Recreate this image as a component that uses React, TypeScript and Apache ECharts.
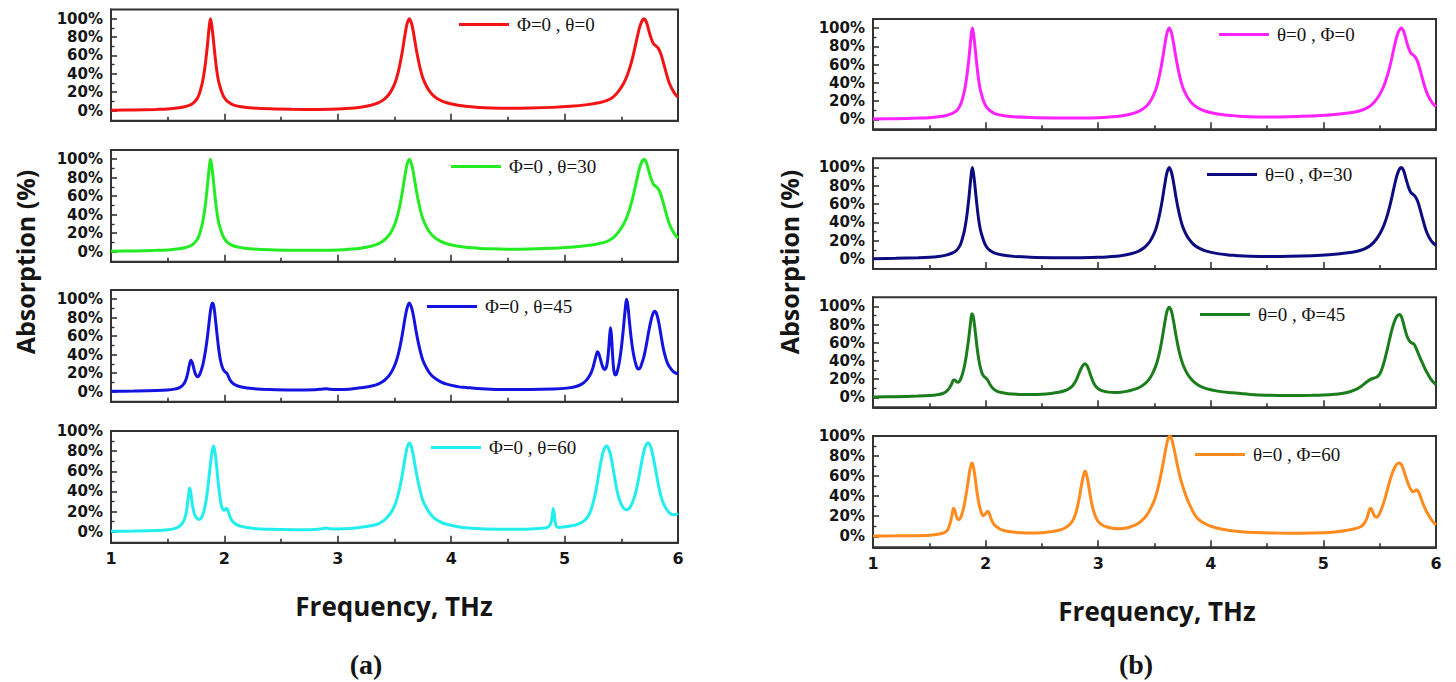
import React, { useEffect, useRef } from "react";
import * as echarts from "echarts";

// Axis ticks and labels
const freqMin = 1;
const freqMax = 6;
const absorptionTicks = [0, 20, 40, 60, 80, 100];
const absorptionMinorTicks = [10, 30, 50, 70, 90];

type Pt = [number, number];

// (a) Φ = 0, varying θ — frequency (THz), absorption (%)
const phi0Theta0: Pt[] = [
  [1.0, 0.3], [1.2, 0.7], [1.4, 1.3], [1.5, 1.8], [1.58, 2.7], [1.65, 4.2], [1.7, 6.2], [1.727, 8.3],
  [1.757, 12.5], [1.777, 17.5], [1.797, 26], [1.807, 31], [1.817, 38], [1.827, 46], [1.837, 56], [1.847, 67],
  [1.857, 80], [1.867, 92], [1.877, 100], [1.887, 94], [1.897, 84], [1.907, 72], [1.917, 60], [1.927, 49],
  [1.937, 40], [1.947, 33], [1.957, 28], [1.977, 20], [1.997, 14.5], [2.027, 10], [2.077, 6.3], [2.15, 4.2],
  [2.25, 2.8], [2.4, 1.9], [2.6, 1.4], [2.8, 1.3], [3.0, 1.8], [3.1, 2.5], [3.2, 3.6], [3.3, 6],
  [3.36, 8.6], [3.41, 12.5], [3.45, 17.5], [3.48, 23.5], [3.51, 32], [3.53, 40.5], [3.55, 51.5], [3.57, 65],
  [3.59, 80.5], [3.61, 94], [3.63, 100], [3.65, 95], [3.67, 83], [3.69, 68], [3.71, 55], [3.73, 44],
  [3.75, 35.5], [3.78, 27], [3.81, 21], [3.85, 15.5], [3.9, 11.5], [3.96, 8.5], [4.06, 5.8], [4.15, 4.4],
  [4.2, 4.0], [4.25, 3.4], [4.35, 2.9], [4.5, 2.6], [4.7, 2.8], [4.9, 3.5], [5.05, 4.6], [5.2, 6.5],
  [5.3, 8.5], [5.37, 10.8], [5.43, 15], [5.478, 21.5], [5.52, 29.5], [5.55, 37.6], [5.58, 48.7], [5.6, 57.9],
  [5.62, 68.5], [5.64, 79.7], [5.66, 90], [5.675, 95.5], [5.69, 99], [5.698, 100], [5.71, 99], [5.725, 95],
  [5.745, 86], [5.765, 78], [5.785, 72.5], [5.805, 70.5], [5.825, 68], [5.845, 63], [5.865, 55], [5.885, 46],
  [5.905, 37], [5.925, 29.5], [5.95, 23], [5.975, 18], [6.0, 14.5],
];

const phi0Theta30: Pt[] = [
  [1.0, 0.3], [1.2, 0.7], [1.4, 1.3], [1.5, 1.8], [1.58, 2.7], [1.65, 4.2], [1.7, 6.2], [1.727, 8.3],
  [1.757, 12.5], [1.777, 17.5], [1.797, 26], [1.807, 31], [1.817, 38], [1.827, 46], [1.837, 56], [1.847, 67],
  [1.857, 80], [1.867, 92], [1.877, 100], [1.887, 94], [1.897, 84], [1.907, 72], [1.917, 60], [1.927, 49],
  [1.937, 40], [1.947, 33], [1.957, 28], [1.977, 20], [1.997, 14.5], [2.027, 10], [2.077, 6.3], [2.15, 4.2],
  [2.25, 2.8], [2.4, 1.9], [2.6, 1.4], [2.8, 1.3], [3.0, 1.8], [3.1, 2.5], [3.2, 3.6], [3.3, 6],
  [3.36, 8.6], [3.41, 12.5], [3.45, 17.5], [3.48, 23.5], [3.51, 32], [3.53, 40.5], [3.55, 51.5], [3.57, 65],
  [3.59, 80.5], [3.61, 94], [3.63, 100], [3.65, 95], [3.67, 83], [3.69, 68], [3.71, 55], [3.73, 44],
  [3.75, 35.5], [3.78, 27], [3.81, 21], [3.85, 15.5], [3.9, 11.5], [3.96, 8.5], [4.06, 5.8], [4.15, 4.4],
  [4.2, 4.0], [4.25, 3.4], [4.35, 2.9], [4.5, 2.6], [4.7, 2.8], [4.9, 3.5], [5.05, 4.6], [5.2, 6.5],
  [5.3, 8.5], [5.37, 10.8], [5.43, 15], [5.478, 21.5], [5.52, 29.5], [5.55, 37.6], [5.58, 48.7], [5.6, 57.9],
  [5.62, 68.5], [5.64, 79.7], [5.66, 90], [5.675, 95.5], [5.69, 99], [5.698, 100], [5.71, 99], [5.725, 95],
  [5.745, 86], [5.765, 78], [5.785, 72.5], [5.805, 70.5], [5.825, 68], [5.845, 63], [5.865, 55], [5.885, 46],
  [5.905, 37], [5.925, 29.5], [5.95, 23], [5.975, 18], [6.0, 14.5],
];

const phi0Theta45: Pt[] = [
  [1.0, 0.2], [1.2, 0.5], [1.4, 1], [1.5, 1.6], [1.56, 2.6], [1.6, 4], [1.63, 6.5], [1.655, 11],
  [1.675, 19], [1.69, 28], [1.705, 34], [1.718, 31], [1.732, 24], [1.748, 18], [1.763, 16], [1.778, 17.5],
  [1.793, 22], [1.808, 28], [1.823, 37], [1.838, 48], [1.853, 62], [1.866, 76], [1.878, 88], [1.888, 94.5],
  [1.895, 96], [1.903, 94.5], [1.913, 87], [1.923, 76], [1.935, 62], [1.948, 48], [1.962, 36], [1.977, 28],
  [1.992, 23.5], [2.005, 21.5], [2.02, 20], [2.035, 16.5], [2.05, 12.5], [2.07, 9.5], [2.1, 7], [2.15, 5],
  [2.25, 3.2], [2.4, 2.2], [2.6, 1.7], [2.8, 1.9], [2.87, 2.8], [2.9, 3.0], [2.93, 2.5], [3.0, 2.2],
  [3.1, 2.6], [3.2, 4.1], [3.3, 6], [3.36, 8.4], [3.41, 12], [3.45, 17], [3.48, 22.7], [3.51, 31],
  [3.53, 39], [3.55, 49.5], [3.57, 62.5], [3.59, 77.5], [3.61, 90], [3.63, 96], [3.65, 91], [3.67, 80],
  [3.69, 65.5], [3.71, 53], [3.73, 42.5], [3.75, 34], [3.78, 26], [3.81, 20], [3.85, 15], [3.9, 11],
  [3.96, 8], [4.06, 5.3], [4.1, 4.6], [4.13, 4.5], [4.2, 3.5], [4.35, 2.6], [4.5, 2.2], [4.7, 2.2],
  [4.9, 2.7], [5.02, 3.7], [5.1, 5.5], [5.15, 8], [5.19, 12], [5.22, 17], [5.245, 24], [5.265, 33],
  [5.28, 40], [5.29, 43], [5.302, 41], [5.318, 34], [5.335, 27], [5.35, 24], [5.362, 24.5], [5.375, 30],
  [5.388, 45], [5.397, 60], [5.405, 69], [5.413, 61], [5.422, 42], [5.432, 25], [5.442, 18.5], [5.452, 18],
  [5.465, 22], [5.48, 30], [5.495, 42], [5.51, 58], [5.522, 73], [5.535, 90], [5.546, 100], [5.557, 94],
  [5.57, 78], [5.585, 60], [5.6, 46], [5.615, 36], [5.632, 28], [5.648, 24.5], [5.665, 25.5], [5.68, 30],
  [5.7, 38], [5.72, 50], [5.74, 64], [5.76, 76], [5.778, 84], [5.795, 87], [5.812, 84], [5.83, 75],
  [5.85, 61], [5.87, 47], [5.89, 37], [5.91, 30], [5.935, 25], [5.96, 21.5], [6.0, 19],
];

const phi0Theta60: Pt[] = [
  [1.0, 0.3], [1.2, 0.6], [1.4, 1.1], [1.5, 1.8], [1.56, 3], [1.6, 5], [1.63, 8.5], [1.65, 13],
  [1.665, 20], [1.677, 30], [1.687, 39], [1.693, 43], [1.7, 41], [1.71, 33], [1.722, 24], [1.737, 17],
  [1.755, 13.5], [1.775, 12], [1.795, 13.5], [1.81, 17], [1.825, 23], [1.84, 32], [1.855, 45], [1.868, 58],
  [1.88, 70], [1.892, 80], [1.904, 85], [1.916, 80], [1.928, 69], [1.94, 55], [1.952, 42], [1.965, 31],
  [1.978, 24], [1.99, 21.5], [2.002, 21.5], [2.015, 23], [2.025, 22.5], [2.037, 19], [2.05, 14.5], [2.07, 10.5],
  [2.1, 7.5], [2.15, 5.2], [2.25, 3.3], [2.4, 2.3], [2.6, 1.9], [2.8, 2.2], [2.87, 3.1], [2.9, 3.5],
  [2.93, 2.9], [3.0, 2.6], [3.1, 3], [3.2, 4.3], [3.3, 6], [3.36, 8], [3.41, 11.5], [3.45, 16],
  [3.48, 21], [3.51, 28.5], [3.53, 36], [3.55, 45.5], [3.57, 57.5], [3.59, 71], [3.61, 83], [3.63, 88],
  [3.65, 84], [3.67, 73], [3.69, 60], [3.71, 48.5], [3.73, 39], [3.75, 31], [3.78, 24], [3.81, 18.5],
  [3.85, 13.5], [3.9, 10], [3.96, 7.3], [4.06, 4.8], [4.15, 3.6], [4.3, 2.7], [4.5, 2.3], [4.7, 2.6],
  [4.82, 3.5], [4.86, 5], [4.88, 9], [4.893, 17], [4.9, 23], [4.908, 18], [4.918, 9], [4.93, 5],
  [4.95, 4.2], [5.0, 4.8], [5.05, 5.6], [5.1, 6.7], [5.15, 9], [5.19, 12.8], [5.22, 18], [5.25, 28],
  [5.28, 43], [5.305, 60], [5.325, 72], [5.345, 81], [5.37, 85], [5.393, 81], [5.413, 72], [5.433, 59],
  [5.455, 45], [5.477, 34], [5.5, 27], [5.523, 23], [5.546, 21.7], [5.57, 23], [5.595, 28], [5.62, 36],
  [5.645, 48], [5.668, 62], [5.69, 75], [5.713, 85], [5.737, 88], [5.76, 84], [5.783, 73], [5.805, 60],
  [5.828, 46], [5.85, 35], [5.875, 27], [5.9, 22], [5.93, 18], [5.957, 16.7], [5.98, 17], [6.0, 18],
];

// (b) θ = 0, varying Φ
const theta0Phi0: Pt[] = [
  [1.0, 0.3], [1.2, 0.7], [1.4, 1.3], [1.5, 1.8], [1.58, 2.7], [1.65, 4.2], [1.7, 6.2], [1.732, 8.3],
  [1.762, 12.5], [1.782, 17.5], [1.802, 26], [1.812, 31], [1.822, 38], [1.832, 46], [1.842, 56], [1.852, 67],
  [1.862, 80], [1.872, 92], [1.882, 100], [1.892, 94], [1.902, 84], [1.912, 72], [1.922, 60], [1.932, 49],
  [1.942, 40], [1.952, 33], [1.962, 28], [1.982, 20], [2.002, 14.5], [2.032, 10], [2.082, 6.3], [2.15, 4.2],
  [2.25, 2.8], [2.4, 1.9], [2.6, 1.4], [2.8, 1.3], [3.0, 1.8], [3.1, 2.5], [3.2, 3.6], [3.3, 6],
  [3.36, 8.6], [3.41, 12.5], [3.45, 17.5], [3.48, 23.5], [3.51, 32], [3.53, 40.5], [3.55, 51.5], [3.57, 65],
  [3.59, 80.5], [3.61, 94], [3.63, 100], [3.65, 95], [3.67, 83], [3.69, 68], [3.71, 55], [3.73, 44],
  [3.75, 35.5], [3.78, 27], [3.81, 21], [3.85, 15.5], [3.9, 11.5], [3.96, 8.5], [4.06, 5.8], [4.15, 4.4],
  [4.2, 4.0], [4.25, 3.4], [4.35, 2.9], [4.5, 2.6], [4.7, 2.8], [4.9, 3.5], [5.05, 4.6], [5.2, 6.5],
  [5.3, 8.5], [5.36, 10.8], [5.42, 15], [5.47, 21.5], [5.51, 29.5], [5.54, 37.6], [5.57, 48.7], [5.59, 57.9],
  [5.61, 68.5], [5.63, 79.7], [5.65, 90], [5.665, 95.5], [5.68, 99], [5.69, 100], [5.702, 99], [5.717, 95],
  [5.737, 86], [5.757, 78], [5.777, 72.5], [5.797, 70.5], [5.817, 68], [5.837, 63], [5.857, 55], [5.877, 46],
  [5.897, 37], [5.917, 29.5], [5.942, 23], [5.97, 17.5], [6.0, 14],
];

const theta0Phi30: Pt[] = [
  [1.0, 0.3], [1.2, 0.7], [1.4, 1.3], [1.5, 1.8], [1.58, 2.7], [1.65, 4.2], [1.7, 6.2], [1.732, 8.3],
  [1.762, 12.5], [1.782, 17.5], [1.802, 26], [1.812, 31], [1.822, 38], [1.832, 46], [1.842, 56], [1.852, 67],
  [1.862, 80], [1.872, 92], [1.882, 100], [1.892, 94], [1.902, 84], [1.912, 72], [1.922, 60], [1.932, 49],
  [1.942, 40], [1.952, 33], [1.962, 28], [1.982, 20], [2.002, 14.5], [2.032, 10], [2.082, 6.3], [2.15, 4.2],
  [2.25, 2.8], [2.4, 1.9], [2.6, 1.4], [2.8, 1.3], [3.0, 1.8], [3.1, 2.5], [3.2, 3.6], [3.3, 6],
  [3.36, 8.6], [3.41, 12.5], [3.45, 17.5], [3.48, 23.5], [3.51, 32], [3.53, 40.5], [3.55, 51.5], [3.57, 65],
  [3.59, 80.5], [3.61, 94], [3.63, 100], [3.65, 95], [3.67, 83], [3.69, 68], [3.71, 55], [3.73, 44],
  [3.75, 35.5], [3.78, 27], [3.81, 21], [3.85, 15.5], [3.9, 11.5], [3.96, 8.5], [4.06, 5.8], [4.15, 4.4],
  [4.2, 4.0], [4.25, 3.4], [4.35, 2.9], [4.5, 2.6], [4.7, 2.8], [4.9, 3.5], [5.05, 4.6], [5.2, 6.5],
  [5.3, 8.5], [5.36, 10.8], [5.42, 15], [5.47, 21.5], [5.51, 29.5], [5.54, 37.6], [5.57, 48.7], [5.59, 57.9],
  [5.61, 68.5], [5.63, 79.7], [5.65, 90], [5.665, 95.5], [5.68, 99], [5.69, 100], [5.702, 99], [5.717, 95],
  [5.737, 86], [5.757, 78], [5.777, 72.5], [5.797, 70.5], [5.817, 68], [5.837, 63], [5.857, 55], [5.877, 46],
  [5.897, 37], [5.917, 29.5], [5.942, 23], [5.97, 18], [6.0, 14.7],
];

const theta0Phi45: Pt[] = [
  [1.0, 0.3], [1.2, 0.7], [1.4, 1.3], [1.5, 1.9], [1.57, 2.8], [1.62, 4.2], [1.655, 6.8], [1.68, 10.5],
  [1.7, 15], [1.715, 19], [1.728, 19], [1.742, 17], [1.755, 16.5], [1.77, 18], [1.785, 22], [1.8, 28],
  [1.815, 36], [1.83, 47], [1.845, 60], [1.857, 72], [1.868, 84], [1.878, 92], [1.888, 90], [1.9, 81],
  [1.912, 68], [1.925, 54], [1.94, 41], [1.955, 32], [1.97, 26], [1.985, 23], [2.0, 21.5], [2.012, 20],
  [2.025, 17.5], [2.04, 14], [2.06, 10.5], [2.09, 7.5], [2.13, 5.5], [2.2, 4], [2.3, 3.2], [2.4, 3],
  [2.5, 3.3], [2.58, 4.2], [2.65, 5.5], [2.7, 7.2], [2.74, 9.5], [2.775, 13], [2.805, 19], [2.83, 26.5],
  [2.85, 32], [2.867, 35.5], [2.883, 37], [2.9, 35], [2.917, 30], [2.935, 23.5], [2.955, 17], [2.975, 12.5],
  [3.0, 9.5], [3.04, 7], [3.09, 5.7], [3.15, 5.2], [3.2, 5.5], [3.25, 6.5], [3.3, 8], [3.36, 10.5],
  [3.41, 14.5], [3.45, 19.5], [3.48, 25.5], [3.51, 34], [3.53, 42], [3.55, 52.5], [3.57, 66], [3.59, 81],
  [3.61, 94], [3.63, 99], [3.65, 95], [3.67, 83], [3.69, 68.5], [3.71, 55.5], [3.73, 45], [3.75, 37],
  [3.78, 28.5], [3.81, 22.5], [3.85, 17], [3.9, 12.5], [3.96, 9.5], [4.06, 6.8], [4.19, 5], [4.35, 3.2],
  [4.49, 2.3], [4.7, 2], [4.9, 2.2], [5.0, 2.5], [5.1, 3.3], [5.2, 5], [5.285, 8.5], [5.34, 12.5],
  [5.38, 16.5], [5.415, 19.5], [5.445, 21], [5.47, 22], [5.49, 24], [5.51, 28], [5.53, 35], [5.55, 44],
  [5.57, 54], [5.59, 65], [5.61, 75], [5.63, 83], [5.65, 88.5], [5.665, 90.5], [5.678, 91], [5.692, 89],
  [5.705, 84], [5.72, 77], [5.735, 70], [5.75, 65], [5.77, 61], [5.79, 59.5], [5.805, 58.5], [5.82, 55],
  [5.84, 49], [5.86, 43], [5.88, 37.5], [5.9, 32], [5.93, 25], [5.96, 19], [6.0, 14],
];

const theta0Phi60: Pt[] = [
  [1.0, 0.2], [1.2, 0.4], [1.35, 0.6], [1.48, 0.8], [1.56, 1.8], [1.61, 2.8], [1.64, 4], [1.66, 6],
  [1.675, 9.5], [1.69, 15], [1.703, 22], [1.715, 28], [1.726, 26], [1.738, 21], [1.75, 17.5], [1.762, 16.7],
  [1.775, 18], [1.79, 22], [1.805, 28.5], [1.82, 37], [1.835, 47.5], [1.848, 57], [1.86, 66], [1.87, 71],
  [1.878, 73], [1.888, 71], [1.9, 64], [1.912, 54], [1.925, 43], [1.94, 33], [1.955, 26], [1.968, 22],
  [1.98, 20.5], [1.992, 21.5], [2.005, 23.5], [2.02, 25], [2.032, 23], [2.045, 18.5], [2.065, 13.5], [2.09, 10],
  [2.13, 7], [2.18, 5.3], [2.24, 4.2], [2.32, 3.5], [2.4, 3.3], [2.5, 3.6], [2.58, 4.5], [2.65, 6],
  [2.7, 8], [2.74, 11], [2.77, 15], [2.795, 21], [2.815, 29], [2.835, 40], [2.85, 50], [2.865, 58.5],
  [2.875, 63], [2.883, 65], [2.892, 63.5], [2.905, 57], [2.918, 48.5], [2.932, 39], [2.948, 30], [2.965, 23],
  [2.985, 17.5], [3.01, 13.5], [3.04, 11], [3.08, 9.2], [3.13, 8], [3.19, 7.5], [3.25, 8.2], [3.3, 10],
  [3.35, 12.5], [3.39, 16], [3.42, 19.5], [3.45, 24.5], [3.48, 31], [3.505, 38], [3.526, 46], [3.547, 56],
  [3.567, 67], [3.587, 79], [3.605, 90], [3.62, 97], [3.636, 100], [3.652, 97], [3.668, 90], [3.685, 81],
  [3.705, 70], [3.725, 60], [3.745, 52], [3.765, 45], [3.79, 37], [3.82, 29.5], [3.86, 21], [3.9, 16],
  [3.95, 12.5], [4.0, 10], [4.1, 7], [4.25, 4.8], [4.4, 3.7], [4.6, 3.2], [4.8, 3.1], [5.0, 3.5],
  [5.1, 4.3], [5.2, 5.8], [5.28, 7.5], [5.33, 9.5], [5.36, 12.5], [5.385, 17.5], [5.4, 23], [5.41, 27],
  [5.418, 28], [5.428, 27], [5.44, 23.5], [5.455, 20], [5.47, 19], [5.485, 20], [5.5, 23], [5.52, 28.5],
  [5.54, 35], [5.56, 43], [5.58, 51.5], [5.6, 59], [5.62, 65.5], [5.64, 70], [5.66, 72.5], [5.678, 73],
  [5.695, 71], [5.712, 66], [5.73, 60], [5.748, 54], [5.765, 49], [5.78, 46], [5.795, 44.5], [5.81, 45],
  [5.825, 46.5], [5.84, 45], [5.855, 41.5], [5.87, 37], [5.89, 31], [5.91, 26], [5.935, 21], [5.96, 16.5],
  [5.98, 13.5], [6.0, 11.5],
];

const seriesNames = [
  "Φ=0 , θ=0", "Φ=0 , θ=30", "Φ=0 , θ=45", "Φ=0 , θ=60",
  "θ=0 , Φ=0", "θ=0 , Φ=30", "θ=0 , Φ=45", "θ=0 , Φ=60",
];
const seriesData = [
  phi0Theta0, phi0Theta30, phi0Theta45, phi0Theta60,
  theta0Phi0, theta0Phi30, theta0Phi45, theta0Phi60,
];
const seriesColors = [
  "#f21414", "#24ec24", "#1414e0", "#22eeee",
  "#ff22ff", "#0c0c80", "#1b7d1b", "#ff8a1e",
];
// upper limit of each panel's absorption axis
const absorptionMax = [110, 110, 110, 100, 110, 110, 110, 100];
const absorptionMin = -11;

// panel layout (px): plot boxes of the two stacked columns
const panelLeft = [111, 111, 111, 111, 873, 873, 873, 873];
const panelWidth = [567, 567, 567, 567, 563, 563, 563, 563];
const panelTop = [9.5, 150, 290, 431, 19, 158.3, 297.3, 436];
const panelHeight = [111.2, 111.7, 111.7, 111.7, 110.3, 110.7, 110, 111.3];
// legend line start and vertical centre
const legendX = [459, 451, 427, 431, 1219, 1207, 1200, 1195];
const legendY = [25, 167, 307, 448, 35, 175, 315, 455];

const INK = "#151515";
const FRAME = "#333";
const SANS = "'Open Sans', 'DejaVu Sans', sans-serif";
const TICK_SANS = "'DejaVu Sans', 'Open Sans', sans-serif";
const SERIF = "'Liberation Serif', 'Times New Roman', serif";

export default function App() {
  const ref = useRef<HTMLDivElement>(null);

  useEffect(() => {
    if (!ref.current) return;
    const chart = echarts.init(ref.current, undefined, { renderer: "svg" });
    const idx = seriesNames.map((_, i) => i);

    const option: any = {
      animation: false,
      backgroundColor: "#fff",
      grid: idx.map((i) => ({
        left: panelLeft[i],
        top: panelTop[i],
        width: panelWidth[i],
        height: panelHeight[i],
        show: true,
        borderColor: FRAME,
        borderWidth: 2,
        backgroundColor: "transparent",
      })),
      xAxis: idx.map((i) => ({
        gridIndex: i,
        type: "value",
        min: freqMin,
        max: freqMax,
        interval: 1,
        axisLine: { show: true, onZero: false, lineStyle: { color: FRAME, width: 2 } },
        axisTick: { show: true, inside: true, length: 7, lineStyle: { color: FRAME, width: 1.6 } },
        minorTick: { show: true, splitNumber: 2, length: 4, lineStyle: { color: FRAME, width: 1.6 } },
        splitLine: { show: false },
        minorSplitLine: { show: false },
        axisLabel: {
          show: i % 4 === 3,
          fontFamily: TICK_SANS,
          fontWeight: "bold",
          fontSize: 16,
          color: INK,
          margin: 8,
        },
      })),
      yAxis: idx.flatMap((i) => [
        {
          gridIndex: i,
          type: "value",
          position: "left",
          min: absorptionMin,
          max: absorptionMax[i],
          axisLine: { show: true, onZero: false, lineStyle: { color: FRAME, width: 2 } },
          axisTick: {
            show: true,
            inside: true,
            length: 6,
            customValues: absorptionTicks,
            lineStyle: { color: FRAME, width: 1.6 },
          },
          splitLine: { show: false },
          axisLabel: {
            customValues: absorptionTicks,
            formatter: "{value}%",
            fontFamily: TICK_SANS,
            fontWeight: "bold",
            fontSize: 15,
            lineHeight: 16,
            color: INK,
            margin: 8,
          },
        },
        {
          gridIndex: i,
          type: "value",
          position: "left",
          offset: 0,
          min: absorptionMin,
          max: absorptionMax[i],
          axisLine: { show: false },
          axisTick: {
            show: true,
            inside: true,
            length: 3.5,
            customValues: absorptionMinorTicks,
            lineStyle: { color: FRAME, width: 1.4 },
          },
          splitLine: { show: false },
          axisLabel: { show: false },
        },
      ]),
      legend: idx.map((i) => ({
        data: [seriesNames[i]],
        left: legendX[i],
        top: legendY[i] - 10,
        padding: 0,
        icon: "rect",
        itemWidth: 50,
        itemHeight: 3,
        selectedMode: false,
        textStyle: { fontFamily: SERIF, fontSize: 19, color: INK, padding: [0, 0, 0, 3] },
      })),
      series: idx.map((i) => ({
        type: "line",
        name: seriesNames[i],
        data: seriesData[i],
        xAxisIndex: i,
        yAxisIndex: 2 * i,
        symbol: "none",
        smooth: 0.35,
        clip: true,
        lineStyle: { color: seriesColors[i], width: 3 },
        itemStyle: { color: seriesColors[i] },
      })),
      graphic: [
        {
          type: "text",
          x: 25,
          y: 262,
          rotation: Math.PI / 2,
          style: { text: "Absorption (%)", fill: INK, font: `bold 25px ${SANS}`, align: "center", verticalAlign: "middle" },
        },
        {
          type: "text",
          x: 789,
          y: 262,
          rotation: Math.PI / 2,
          style: { text: "Absorption (%)", fill: INK, font: `bold 25px ${SANS}`, align: "center", verticalAlign: "middle" },
        },
        {
          type: "text",
          x: 394,
          y: 606,
          style: { text: "Frequency, THz", fill: INK, font: `bold 26px ${SANS}`, align: "center", verticalAlign: "middle" },
        },
        {
          type: "text",
          x: 1157,
          y: 611,
          style: { text: "Frequency, THz", fill: INK, font: `bold 26px ${SANS}`, align: "center", verticalAlign: "middle" },
        },
        {
          type: "text",
          x: 366,
          y: 664,
          style: { text: "(a)", fill: INK, font: `bold 28px ${SERIF}`, align: "center", verticalAlign: "middle" },
        },
        {
          type: "text",
          x: 1136,
          y: 664,
          style: { text: "(b)", fill: INK, font: `bold 28px ${SERIF}`, align: "center", verticalAlign: "middle" },
        },
      ],
    };

    chart.setOption(option);
    return () => chart.dispose();
  }, []);

  return (
    <div
      ref={ref}
      style={{ position: "fixed", left: 0, top: 0, width: 1456, height: 682, background: "#fff" }}
    />
  );
}
